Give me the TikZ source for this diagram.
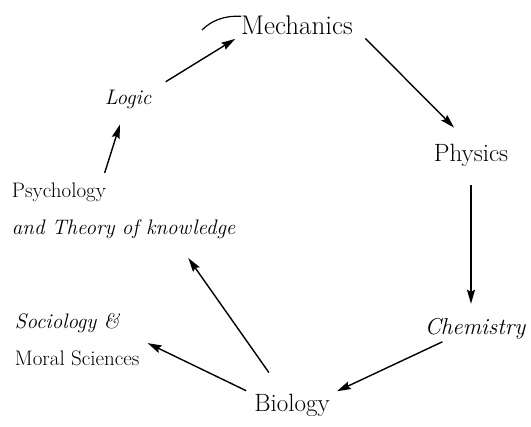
\documentclass[tikz,border=0pt]{standalone}
\usetikzlibrary{arrows.meta,calc}
\begin{document}
\begin{tikzpicture}[x=1pt,y=-1pt,
  lab/.style={inner sep=0pt,outer sep=0pt,font=\fontsize{25}{29}\selectfont},
  labit/.style={inner sep=0pt,outer sep=0pt,font=\fontsize{21}{37}\selectfont\itshape},
  multi/.style={inner sep=0pt,outer sep=0pt,align=left,anchor=north west,font=\fontsize{21}{37}\selectfont},
  arr/.style={line width=1.4pt,-{Stealth[length=14pt,width=8pt,inset=2pt]}},
  ln/.style={line width=1.2pt}]
\useasboundingbox (0,0) rectangle (531,427);
\node[lab,anchor=base,font=\fontsize{27}{31}\selectfont] (mech) at (297,35) {Mechanics};
\node[lab,anchor=base] (phys) at (471,162) {Physics};
\node[labit,anchor=base,font=\fontsize{23}{37}\selectfont\itshape] (chem) at (475,335) {Chemistry};
\node[lab,anchor=base] (bio) at (292,412) {Biology};
\node[labit,anchor=base] (logic) at (128,105) {Logic};
\node[multi] (psy) at (12,183.4) {Psychology\\ \itshape and Theory of knowledge};
\node[multi] (soc) at (15,313) {\itshape Sociology \&\\ Moral Sciences};
\coordinate (flour) at (202,30);
\draw[ln] (flour) .. controls (212,20) and (225,15.5) .. (mech.north west);
\draw[arr,shorten <=17pt,shorten >=7pt] (logic.north east) -- (mech.south west);
\draw[arr,shorten <=18pt,shorten >=24pt] (mech.east) -- (phys.north);
\draw[arr,shorten <=18pt,shorten >=15pt] (phys.south) -- (phys.south |- chem.north);
\draw[arr,shorten <=5pt,shorten >=8pt] ($(chem.south west)!0.22!(chem.south east)$) -- (bio.north east);
\draw[arr,shorten <=27pt,shorten >=23pt] ($(bio.north west)!0.4!(bio.north east)$) -- ($(psy.south west)!0.73!(psy.south east)$);
\draw[arr,shorten <=9pt,shorten >=9pt] (bio.north west) -- (soc.east);
\draw[arr,shorten <=11pt,shorten >=16pt] ($(psy.north west)!0.40!(psy.north east)$) -- ($(logic.south west)!0.43!(logic.south east)$);
\end{tikzpicture}
\end{document}
